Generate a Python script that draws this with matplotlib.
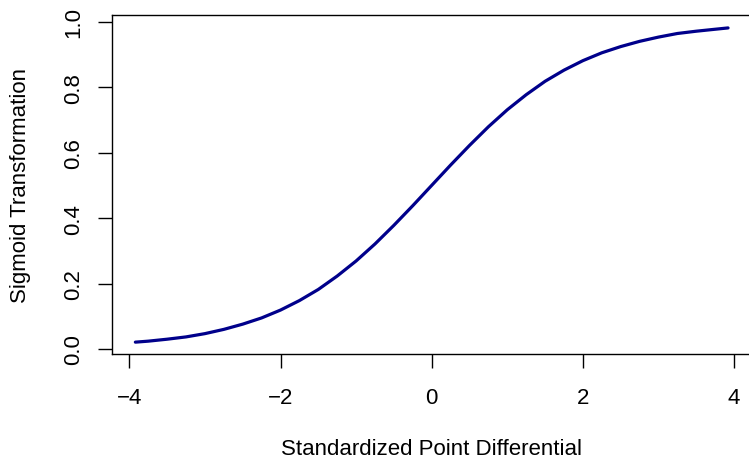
import matplotlib
matplotlib.use("Agg")
import matplotlib.pyplot as plt

x_vals = [-3.92, -3.75, -3.5, -3.25, -3.0, -2.75, -2.5, -2.25, -2.0, -1.75, -1.5, -1.25,
          -1.0, -0.75, -0.5, -0.25, 0.0, 0.25, 0.5, 0.75, 1.0, 1.25, 1.5, 1.75, 2.0,
          2.25, 2.5, 2.75, 3.0, 3.25, 3.5, 3.75, 3.92]
y_vals = [0.021, 0.024, 0.030, 0.037, 0.047, 0.060, 0.076, 0.095, 0.119, 0.148, 0.182, 0.223,
          0.269, 0.321, 0.378, 0.438, 0.500, 0.562, 0.622, 0.679, 0.731, 0.777, 0.818, 0.852, 0.881,
          0.905, 0.924, 0.940, 0.953, 0.964, 0.971, 0.977, 0.981]
x_ticks = [-4, -2, 0, 2, 4]
y_ticks = [0.0, 0.2, 0.4, 0.6, 0.8, 1.0]
x_ticklabels = ["\u22124", "\u22122", "0", "2", "4"]
y_ticklabels = ["0.0", "0.2", "0.4", "0.6", "0.8", "1.0"]

plt.rcParams['font.family'] = ['Liberation Sans', 'DejaVu Sans']

W, H = 749, 460
fig = plt.figure(figsize=(W / 100, H / 100), dpi=100)
left, right, top, bottom = 111.7, 751.7, 16.0, 354.7
ax = fig.add_axes([left / W, 1 - bottom / H, (right - left) / W, (bottom - top) / H])

ax.plot(x_vals, y_vals, color='#00008B', lw=2.3, solid_capstyle='round', solid_joinstyle='round')
ax.set_xlim(-4.233, 4.233)
ax.set_ylim(-0.0143, 1.0205)

ax.set_xticks(x_ticks)
ax.set_xticklabels(x_ticklabels)
ax.set_yticks(y_ticks)
ax.set_yticklabels(y_ticklabels)

for s in ax.spines.values():
    s.set_linewidth(1.0)
    s.set_color('black')

ax.tick_params(axis='both', length=10, width=1.0, labelsize=16, color='black')
ax.tick_params(axis='x', pad=14)
ax.tick_params(axis='y', pad=10, labelrotation=90)
for lab in ax.get_yticklabels():
    lab.set_va('center')
    lab.set_ha('right')

ax.set_xlabel("Standardized Point Differential", fontsize=16, va='baseline')
ax.xaxis.set_label_coords(431.7 / W, 1 - 455 / H, transform=fig.transFigure)
ax.set_ylabel("Sigmoid Transformation", fontsize=16, va='center')
ax.yaxis.set_label_coords(21 / W, 1 - ((top + bottom) / 2) / H, transform=fig.transFigure)

fig.savefig("out.png", dpi=100)
